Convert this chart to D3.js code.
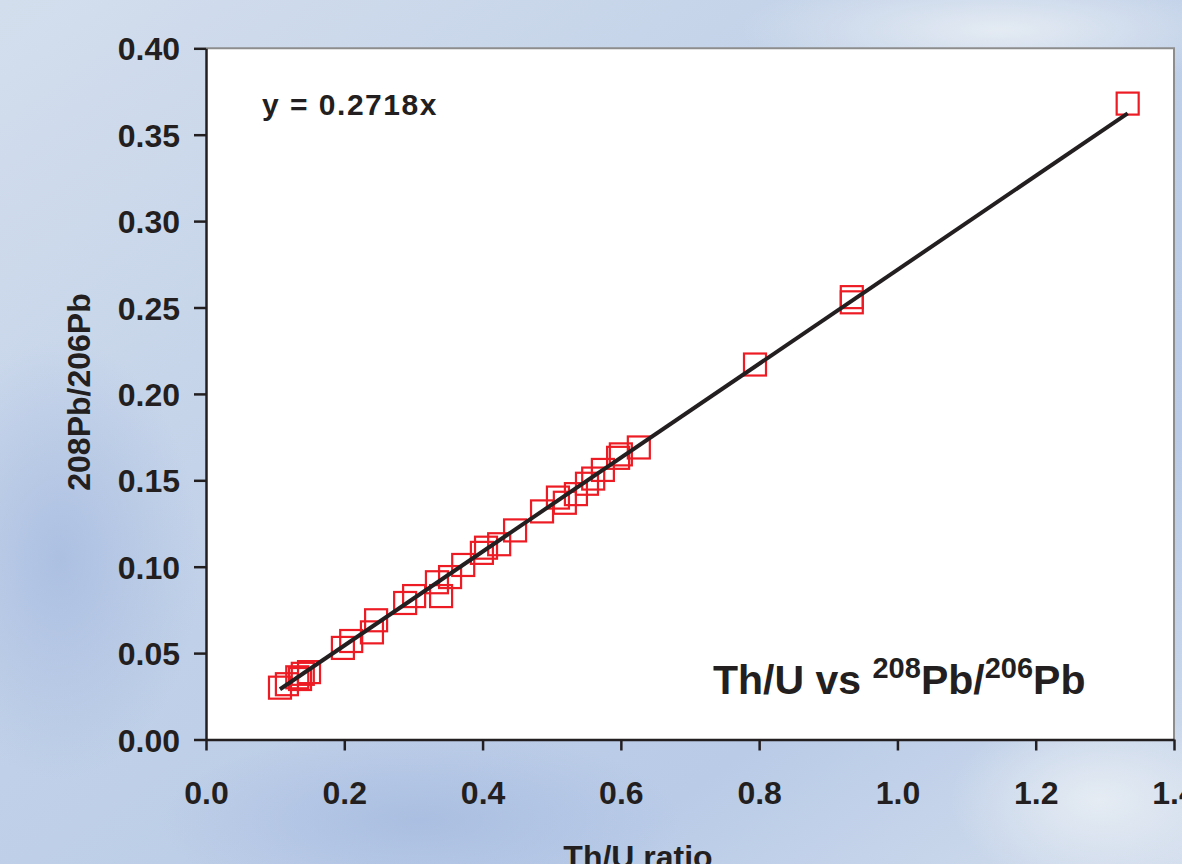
<!DOCTYPE html>
<html>
<head>
<meta charset="utf-8">
<script src="https://cdn.jsdelivr.net/npm/d3@7"></script>
<style>
  body { margin: 0; overflow: hidden; }
  text { font-family: "Liberation Sans", Arial, sans-serif; font-weight: bold; fill: #231f20; }
</style>
</head>
<body>
<script>
// Chart data
var thU = [0.107, 0.117, 0.132, 0.136, 0.140, 0.149, 0.198, 0.210, 0.240, 0.246,
           0.288, 0.301, 0.334, 0.340, 0.353, 0.372, 0.399, 0.405, 0.424, 0.447,
           0.486, 0.509, 0.519, 0.535, 0.551, 0.560, 0.574, 0.596, 0.600, 0.626,
           0.794, 0.934, 0.934, 1.333];
var pbRatio = [0.030, 0.032, 0.036, 0.035, 0.038, 0.039, 0.053, 0.057, 0.062, 0.069,
               0.079, 0.083, 0.091, 0.083, 0.094, 0.101, 0.108, 0.111, 0.113, 0.121,
               0.132, 0.140, 0.137, 0.142, 0.148, 0.151, 0.156, 0.163, 0.165, 0.169,
               0.217, 0.256, 0.253, 0.368];

// Linear fit through origin
var slope = 0.2718;
var fitRange = [0.107, 1.333];

var xTicks = [0, 0.2, 0.4, 0.6, 0.8, 1.0, 1.2, 1.4];
var yTicks = [0, 0.05, 0.10, 0.15, 0.20, 0.25, 0.30, 0.35, 0.40];

var width = 1182, height = 864;

var svg = d3.select("body").append("svg")
    .attr("width", width)
    .attr("height", height);

// Sky-ish background
var defs = svg.append("defs");
var bg = defs.append("linearGradient").attr("id", "bg")
    .attr("x1", 0).attr("y1", 0).attr("x2", 1).attr("y2", 1);
bg.append("stop").attr("offset", "0%").attr("stop-color", "#d3deed");
bg.append("stop").attr("offset", "45%").attr("stop-color", "#c0d0e8");
bg.append("stop").attr("offset", "75%").attr("stop-color", "#b9cbe7");
bg.append("stop").attr("offset", "100%").attr("stop-color", "#d2dded");

var blob = defs.append("radialGradient").attr("id", "blob");
blob.append("stop").attr("offset", "0%").attr("stop-color", "#a6bbe0").attr("stop-opacity", 0.8);
blob.append("stop").attr("offset", "100%").attr("stop-color", "#a6bbe0").attr("stop-opacity", 0);

var light = defs.append("radialGradient").attr("id", "light");
light.append("stop").attr("offset", "0%").attr("stop-color", "#e8eef4").attr("stop-opacity", 0.9);
light.append("stop").attr("offset", "100%").attr("stop-color", "#e8eef4").attr("stop-opacity", 0);

svg.append("rect").attr("width", width).attr("height", height).attr("fill", "url(#bg)");
svg.append("ellipse").attr("cx", 420).attr("cy", 820).attr("rx", 260).attr("ry", 90).attr("fill", "url(#blob)");
svg.append("ellipse").attr("cx", 60).attr("cy", 560).attr("rx", 140).attr("ry", 220).attr("fill", "url(#blob)");
svg.append("ellipse").attr("cx", 1000).attr("cy", 30).attr("rx", 260).attr("ry", 60).attr("fill", "url(#light)");
svg.append("ellipse").attr("cx", 1100).attr("cy", 800).attr("rx", 150).attr("ry", 90).attr("fill", "url(#light)");

var x = d3.scaleLinear().domain([0, 1.4]).range([206, 1174]);
var y = d3.scaleLinear().domain([0, 0.4]).range([739.5, 48.3]);

// Plot area
svg.append("rect")
    .attr("x", x(0)).attr("y", y(0.4))
    .attr("width", x(1.4) - x(0)).attr("height", y(0) - y(0.4))
    .attr("fill", "#ffffff");
svg.append("path")
    .attr("d", "M" + x(0) + "," + y(0.4) + "H" + x(1.4) + "V" + y(0))
    .attr("fill", "none")
    .attr("stroke", "#8d8d8d")
    .attr("stroke-width", 2);

// Axes
var yAxis = svg.append("g")
    .attr("transform", "translate(" + x(0) + ",0)")
    .call(d3.axisLeft(y).tickValues(yTicks).tickFormat(d3.format(".2f"))
        .tickSize(12).tickSizeOuter(0).tickPadding(14));
var xAxis = svg.append("g")
    .attr("transform", "translate(0," + y(0) + ")")
    .call(d3.axisBottom(x).tickValues(xTicks).tickFormat(d3.format(".1f"))
        .tickSize(11).tickSizeOuter(0).tickPadding(31));

[yAxis, xAxis].forEach(function(g) {
    g.selectAll("path, line").attr("stroke", "#231f20").attr("stroke-width", 2.5);
    g.selectAll("text")
        .attr("fill", "#231f20")
        .style("font-family", "'Liberation Sans', Arial, sans-serif")
        .style("font-weight", "bold")
        .style("font-size", "32px");
});
yAxis.selectAll("text").attr("dy", "0.36em");

// Markers
var pts = d3.range(thU.length).map(function(i) { return {x: thU[i], y: pbRatio[i]}; });
svg.append("g").selectAll("rect")
    .data(pts)
    .enter().append("rect")
    .attr("x", function(d) { return x(d.x) - 11; })
    .attr("y", function(d) { return y(d.y) - 11; })
    .attr("width", 22)
    .attr("height", 22)
    .attr("fill", "none")
    .attr("stroke", "#ed1c24")
    .attr("stroke-width", 2.2);

// Trend line
var line = d3.line()
    .x(function(d) { return x(d); })
    .y(function(d) { return y(slope * d); });
svg.append("path")
    .datum(fitRange)
    .attr("d", line)
    .attr("fill", "none")
    .attr("stroke", "#231f20")
    .attr("stroke-width", 4);

// Equation
svg.append("text")
    .attr("x", 262).attr("y", 115)
    .style("font-size", "30px")
    .style("letter-spacing", "1.5px")
    .text("y = 0.2718x");

// Series caption with superscripts
var cap = svg.append("text")
    .attr("x", 713).attr("y", 694)
    .style("font-size", "41px");
cap.append("tspan").text("Th/U vs ");
cap.append("tspan").attr("dy", -16).style("font-size", "29px").text("208");
cap.append("tspan").attr("dy", 16).text("Pb/");
cap.append("tspan").attr("dy", -16).style("font-size", "29px").text("206");
cap.append("tspan").attr("dy", 16).text("Pb");

// Axis titles
svg.append("text")
    .attr("transform", "translate(90,392) rotate(-90)")
    .attr("text-anchor", "middle")
    .style("font-size", "32px")
    .text("208Pb/206Pb");

svg.append("text")
    .attr("x", 638).attr("y", 868)
    .attr("text-anchor", "middle")
    .style("font-size", "32px")
    .text("Th/U ratio");
</script>
</body>
</html>
